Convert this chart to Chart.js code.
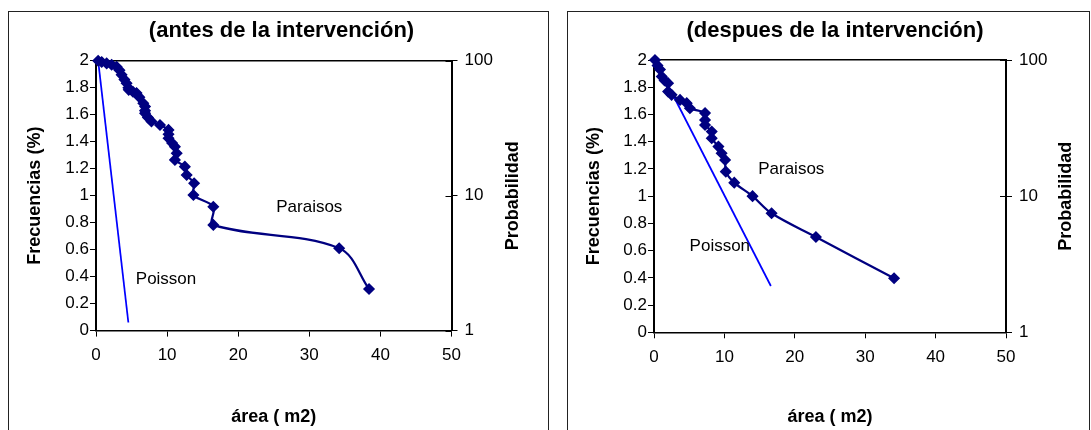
<!DOCTYPE html>
<html lang="es">
<head>
<meta charset="utf-8">
<title>Frecuencias de área antes y despues de la intervención</title>
<script src="https://cdn.jsdelivr.net/npm/chart.js@4.4.1/dist/chart.umd.min.js"></script>
<style>
  html, body { margin: 0; padding: 0; background: #fff; }
  body { width: 1091px; height: 430px; position: relative; overflow: hidden; }
  .panel { position: absolute; top: 11px; height: 440px; border: 1px solid #222; box-sizing: border-box; }
  #panelAntes { left: 8px; width: 541px; }
  #panelDespues { left: 567px; width: 523px; }
  canvas { position: absolute; top: 0; }
  #chartAntes { left: 0; }
  #chartDespues { left: 545px; }
</style>
</head>
<body>
<div class="panel" id="panelAntes"></div>
<div class="panel" id="panelDespues"></div>
<canvas id="chartAntes" width="545" height="430"></canvas>
<canvas id="chartDespues" width="546" height="430"></canvas>

<script>
// Ejes comunes
const areaTicks = [0, 10, 20, 30, 40, 50];
const areaTickLabels = ['0', '10', '20', '30', '40', '50'];
const freqTicks = [0, 0.2, 0.4, 0.6, 0.8, 1, 1.2, 1.4, 1.6, 1.8, 2];
const freqTickLabels = ['0', '0.2', '0.4', '0.6', '0.8', '1', '1.2', '1.4', '1.6', '1.8', '2'];
const probTicks = [1, 10, 100];
const probTickLabels = ['1', '10', '100'];

// Antes de la intervención
const antesParaisosX = [0.3, 0.8, 1.5, 2.2, 2.9, 3.3, 3.6, 4.0, 4.3, 4.55, 4.6, 5.2, 5.7, 6.1, 6.65, 6.9, 6.9, 6.9, 7.3, 7.8, 9.0, 10.2, 10.2, 10.2, 10.7, 11.1, 11.35, 11.1, 12.5, 12.75, 13.8, 13.7, 16.5, 16.5, 34.2, 38.4];
const antesParaisosY = [2.0, 1.99, 1.98, 1.97, 1.955, 1.93, 1.895, 1.86, 1.833, 1.8, 1.784, 1.77, 1.76, 1.73, 1.685, 1.66, 1.63, 1.61, 1.58, 1.55, 1.524, 1.487, 1.455, 1.425, 1.39, 1.363, 1.314, 1.265, 1.215, 1.153, 1.092, 1.005, 0.918, 0.783, 0.61, 0.308];
const antesPoissonX = [0.3, 4.55];
const antesPoissonY = [2.0, 0.06];

// Despues de la intervención
const despuesParaisosX = [0.14, 0.5, 0.85, 1.1, 1.5, 2.0, 2.0, 2.5, 3.7, 4.65, 5.1, 7.25, 7.25, 7.25, 8.2, 8.2, 9.15, 9.6, 10.1, 10.2, 11.4, 14.0, 16.7, 23.0, 34.1];
const despuesParaisosY = [2.0, 1.96, 1.93, 1.878, 1.85, 1.83, 1.768, 1.744, 1.707, 1.683, 1.646, 1.61, 1.56, 1.523, 1.474, 1.425, 1.364, 1.315, 1.266, 1.18, 1.099, 1.0, 0.874, 0.70, 0.397];
const despuesPoissonX = [0.15, 16.6];
const despuesPoissonY = [2.0, 0.34];

// Rótulos dentro del gráfico
const rotulos = ['Paraisos', 'Poisson'];
const antesRotuloX = [30, 9.85];
const antesRotuloY = [0.91, 0.383];
const despuesRotuloX = [19.5, 9.35];
const despuesRotuloY = [1.2, 0.629];

const fuente = "'Liberation Sans', Arial, sans-serif";

function pares(xs, ys) {
  return xs.map((x, i) => ({ x: x, y: ys[i] }));
}

function fijarTicks(valores) {
  return scale => { scale.ticks = valores.map(v => ({ value: v })); };
}

function crearGrafico(id, cfg) {
  const ctx = document.getElementById(id).getContext('2d');
  return new Chart(ctx, {
    type: 'scatter',
    data: {
      datasets: [
        {
          label: 'Paraisos',
          data: pares(cfg.parX, cfg.parY),
          showLine: true,
          borderColor: '#000080',
          backgroundColor: '#000080',
          borderWidth: 2.25,
          pointStyle: 'rectRot',
          pointRadius: 5,
          pointBorderWidth: 1.5,
          tension: 0.35,
          clip: false
        },
        {
          label: 'Poisson',
          data: pares(cfg.poiX, cfg.poiY),
          showLine: true,
          borderColor: '#0000ff',
          borderWidth: 1.75,
          pointRadius: 0,
          tension: 0,
          clip: false
        }
      ]
    },
    options: {
      responsive: false,
      animation: false,
      events: [],
      layout: { padding: { left: cfg.padIzq, right: 0, top: 0, bottom: 0 } },
      plugins: {
        legend: { display: false },
        tooltip: { enabled: false },
        title: {
          display: true,
          text: cfg.titulo,
          color: '#000',
          font: { family: fuente, size: 22, weight: 'bold' },
          padding: { top: cfg.tituloTop, bottom: cfg.tituloBottom }
        }
      },
      scales: {
        x: {
          type: 'linear',
          position: 'bottom',
          min: 0,
          max: 50,
          afterBuildTicks: fijarTicks(areaTicks),
          afterFit: s => { s.height = cfg.altoX; },
          ticks: {
            color: '#000',
            padding: 9,
            maxRotation: 0,
            font: { family: fuente, size: 17 },
            callback: (v, i) => areaTickLabels[i]
          },
          grid: { drawOnChartArea: false, tickLength: 6, tickColor: '#000' },
          border: { color: '#000', width: 1.5 },
          title: {
            display: true,
            text: 'área ( m2)',
            color: '#000',
            font: { family: fuente, size: 18, weight: 'bold' },
            padding: { top: 0, bottom: 2.5 }
          }
        },
        xTop: {
          type: 'linear',
          position: 'top',
          min: 0,
          max: 50,
          afterFit: s => { s.height = 0; },
          ticks: { display: false },
          grid: { display: false, drawTicks: false },
          border: { color: '#000', width: 1.5 }
        },
        y: {
          type: 'linear',
          position: 'left',
          min: 0,
          max: 2,
          afterBuildTicks: fijarTicks(freqTicks),
          afterFit: s => { s.width = cfg.anchoY; },
          ticks: {
            color: '#000',
            padding: 1,
            font: { family: fuente, size: 17 },
            callback: (v, i) => freqTickLabels[i]
          },
          grid: { drawOnChartArea: false, tickLength: 6, tickColor: '#000' },
          border: { color: '#000', width: 2 },
          title: {
            display: true,
            text: 'Frecuencias (%)',
            color: '#000',
            font: { family: fuente, size: 18, weight: 'bold' },
            padding: { top: cfg.padTituloY, bottom: 0 }
          }
        },
        y2: {
          type: 'logarithmic',
          position: 'right',
          min: 1,
          max: 100,
          afterBuildTicks: fijarTicks(probTicks),
          afterFit: s => { s.width = cfg.anchoY2; },
          ticks: {
            color: '#000',
            padding: 7,
            font: { family: fuente, size: 17 },
            callback: (v, i) => probTickLabels[i]
          },
          grid: { drawOnChartArea: false, tickLength: 6, tickColor: '#000' },
          border: { color: '#000', width: 2 }
        }
      }
    },
    plugins: [{
      id: 'rotulos',
      afterDatasetsDraw(chart) {
        const { ctx, scales, chartArea } = chart;
        ctx.save();
        // marcas cruzadas del eje de probabilidad (parte interior)
        ctx.strokeStyle = '#000';
        ctx.lineWidth = 1;
        probTicks.forEach(v => {
          const py = Math.round(scales.y2.getPixelForValue(v)) + 0.5;
          ctx.beginPath();
          ctx.moveTo(chartArea.right - 6, py);
          ctx.lineTo(chartArea.right, py);
          ctx.stroke();
        });
        ctx.fillStyle = '#000';
        ctx.textAlign = 'center';
        ctx.textBaseline = 'middle';
        ctx.font = '17px ' + fuente;
        rotulos.forEach((t, i) => {
          ctx.fillText(t, scales.x.getPixelForValue(cfg.rotX[i]), scales.y.getPixelForValue(cfg.rotY[i]));
        });
        // título del eje derecho, se lee de abajo hacia arriba
        ctx.font = 'bold 18px ' + fuente;
        ctx.translate(cfg.probX, (chartArea.top + chartArea.bottom) / 2);
        ctx.rotate(-Math.PI / 2);
        ctx.fillText('Probabilidad', 0, 0);
        ctx.restore();
      }
    }]
  });
}

crearGrafico('chartAntes', {
  titulo: '(antes de la intervención)',
  parX: antesParaisosX, parY: antesParaisosY,
  poiX: antesPoissonX, poiY: antesPoissonY,
  rotX: antesRotuloX, rotY: antesRotuloY,
  padIzq: 18, anchoY: 78, anchoY2: 93.5, altoX: 99.4,
  tituloTop: 17.8, tituloBottom: 16.5, padTituloY: 6, probX: 512.7
});

crearGrafico('chartDespues', {
  titulo: '(despues de la intervención)',
  parX: despuesParaisosX, parY: despuesParaisosY,
  poiX: despuesPoissonX, poiY: despuesPoissonY,
  rotX: despuesRotuloX, rotY: despuesRotuloY,
  padIzq: 34, anchoY: 75, anchoY2: 85, altoX: 97.7,
  tituloTop: 17.8, tituloBottom: 15.8, padTituloY: 3.9, probX: 521
});
</script>
</body>
</html>
